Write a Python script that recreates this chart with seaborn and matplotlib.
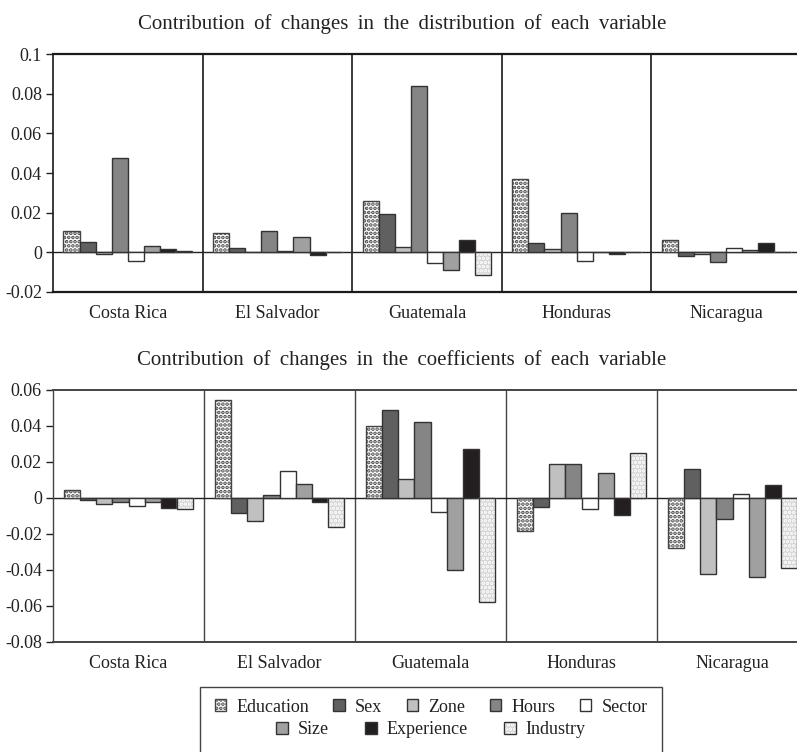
import matplotlib
matplotlib.use("Agg")
import matplotlib.pyplot as plt
from matplotlib.patches import Patch, Rectangle
import pandas as pd
import seaborn as sns

countries = ['Costa Rica', 'El Salvador', 'Guatemala', 'Honduras', 'Nicaragua']
variables = ['Education', 'Sex', 'Zone', 'Hours', 'Sector', 'Size', 'Experience', 'Industry']

# contribucion de cambios en la distribucion (panel superior)
education_d = [0.0110, 0.0100, 0.0258, 0.0370, 0.0062]
sex_d = [0.0052, 0.0020, 0.0193, 0.0045, -0.0017]
zone_d = [-0.0008, 0.0000, 0.0027, 0.0018, -0.0008]
hours_d = [0.0474, 0.0106, 0.0838, 0.0196, -0.0047]
sector_d = [-0.0042, 0.0007, -0.0054, -0.0042, 0.0022]
size_d = [0.0030, 0.0079, -0.0090, 0.0003, 0.0012]
experience_d = [0.0017, -0.0012, 0.0064, -0.0010, 0.0049]
industry_d = [0.0008, 0.0003, -0.0114, 0.0000, 0.0000]

# contribucion de cambios en los coeficientes (panel inferior)
education_c = [0.0046, 0.0546, 0.0400, -0.0181, -0.0280]
sex_c = [-0.0011, -0.0083, 0.0489, -0.0052, 0.0159]
zone_c = [-0.0033, -0.0126, 0.0107, 0.0191, -0.0420]
hours_c = [-0.0020, 0.0017, 0.0420, 0.0191, -0.0115]
sector_c = [-0.0043, 0.0150, -0.0078, -0.0059, 0.0020]
size_c = [-0.0020, 0.0076, -0.0400, 0.0141, -0.0439]
experience_c = [-0.0056, -0.0020, 0.0272, -0.0093, 0.0072]
industry_c = [-0.0061, -0.0159, -0.0578, 0.0252, -0.0387]

dist_series = [education_d, sex_d, zone_d, hours_d, sector_d, size_d, experience_d, industry_d]
coef_series = [education_c, sex_c, zone_c, hours_c, sector_c, size_c, experience_c, industry_c]

titulo_1 = 'Contribution of changes in the distribution of each variable'
titulo_2 = 'Contribution of changes in the coefficients of each variable'

face = {'Education': 'white', 'Sex': '#606060', 'Zone': '#c0c0c0', 'Hours': '#858585',
        'Sector': 'white', 'Size': '#a0a0a0', 'Experience': '#231f20', 'Industry': '#d4d4d4'}
EDGE = '#333333'


def a_tabla(series):
    filas = []
    for var, vals in zip(variables, series):
        for pais, v in zip(countries, vals):
            filas.append({'country': pais, 'variable': var, 'value': v})
    return pd.DataFrame(filas)


sns.set_style('white')
plt.rcParams['font.family'] = ['Liberation Serif', 'DejaVu Serif']
plt.rcParams['hatch.linewidth'] = 1.8


def panel(ax, df, ylim, yticks, linea, lw_spine):
    sns.barplot(data=df, x='country', y='value', hue='variable', order=countries,
                hue_order=variables, palette=face, width=0.86, gap=0,
                edgecolor=EDGE, linewidth=1.0, saturation=1, legend=False,
                errorbar=None, ax=ax, zorder=3)
    for var, cont in zip(variables, ax.containers):
        for p in cont:
            if var == 'Education':
                p.set_hatch('....')
                p.set_edgecolor('#444444')
            elif var == 'Industry':
                p.set_hatch('....')
                p.set_edgecolor('white')
                ax.add_patch(Rectangle(p.get_xy(), p.get_width(), p.get_height(),
                                       fill=False, edgecolor=EDGE, lw=1.0, zorder=4))
    ax.axhline(0, color='#222222', lw=1.0, zorder=2)
    for b in range(1, len(countries)):
        ax.axvline(b - 0.5, color=linea, lw=lw_spine, zorder=1)
    ax.set_xlim(-0.5, len(countries) - 0.5)
    ax.set_ylim(*ylim)
    ax.set_yticks(yticks)
    ax.set_yticklabels([f'{t:g}' for t in yticks])
    ax.set_xlabel('')
    ax.set_ylabel('')
    ax.tick_params(axis='x', length=0, pad=9, labelsize=13, colors='#222222')
    ax.tick_params(axis='y', length=5, width=1.0, direction='out', left=True,
                   pad=3, labelsize=13, colors='#222222')
    for s in ['top', 'bottom', 'left']:
        ax.spines[s].set_color(linea)
        ax.spines[s].set_linewidth(lw_spine)
    ax.spines['top'].set_linewidth(lw_spine + 0.4)
    ax.spines['bottom'].set_linewidth(lw_spine + 0.4)
    ax.spines['right'].set_visible(False)


fig = plt.figure(figsize=(7.97, 7.52), dpi=100)
W, H = 797, 752
ax1 = fig.add_axes([53 / W, 1 - 292 / H, 748 / W, 238 / H])
ax2 = fig.add_axes([53 / W, 1 - 642 / H, 755 / W, 252 / H])

panel(ax1, a_tabla(dist_series), (-0.02, 0.1),
      [-0.02, 0, 0.02, 0.04, 0.06, 0.08, 0.1], '#1a1a1a', 1.2)
panel(ax2, a_tabla(coef_series), (-0.08, 0.06),
      [-0.08, -0.06, -0.04, -0.02, 0, 0.02, 0.04, 0.06], '#444444', 1.0)

# el titulo original tiene las palabras algo separadas
for txt, y in [(titulo_1, 24), (titulo_2, 360)]:
    fig.text(402 / W, 1 - y / H, txt.replace(' ', ' \u2009'),
             ha='center', va='center', fontsize=15, color='#222222')


def handle(var):
    if var == 'Education':
        return Patch(facecolor='white', edgecolor='#444444', hatch='....', lw=1.0)
    if var == 'Industry':
        return (Patch(facecolor=face[var], edgecolor='white', hatch='....', lw=1.0),
                Patch(fill=False, edgecolor=EDGE, lw=1.0))
    return Patch(facecolor=face[var], edgecolor=EDGE, lw=1.0)


fila1 = variables[:5]
fila2 = variables[5:]
kw = dict(frameon=False, fontsize=13, handlelength=0.65, handleheight=0.65,
          handletextpad=0.55, borderaxespad=0, borderpad=0, labelcolor='#222222')
leg1 = fig.legend([handle(v) for v in fila1], fila1, ncol=5, loc='center',
                  bbox_to_anchor=(431 / W, 1 - 707 / H), columnspacing=1.35, **kw)
leg2 = fig.legend([handle(v) for v in fila2], fila2, ncol=3, loc='center',
                  bbox_to_anchor=(431 / W, 1 - 730 / H), columnspacing=2.0, **kw)
fig.add_artist(Rectangle((200 / W, -0.01), 462 / W, (752 - 687) / H + 0.01,
                         transform=fig.transFigure, fill=False,
                         edgecolor='#444444', lw=1.0))

fig.savefig('out.png', dpi=100)
plt.close(fig)
